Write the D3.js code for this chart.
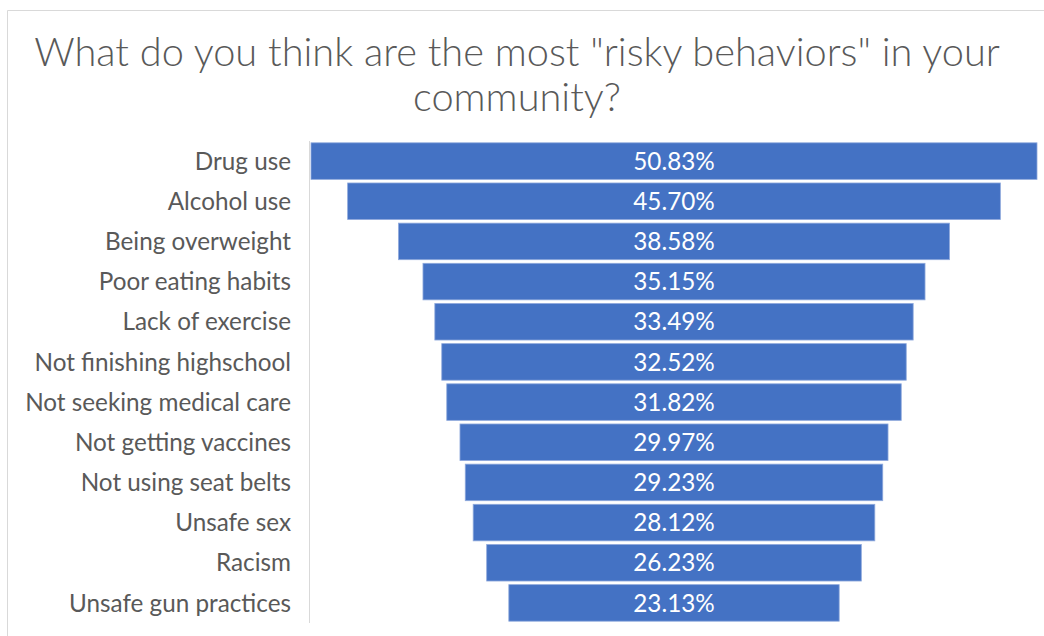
<!DOCTYPE html>
<html>
<head>
<meta charset="utf-8">
<script src="https://cdn.jsdelivr.net/npm/d3@7"></script>
<style>
  html, body { margin: 0; padding: 0; background: #ffffff; }
  svg { display: block; }
</style>
</head>
<body>
<svg id="chart" width="1044" height="636"></svg>
<script>
// Survey responses: share of respondents naming each behaviour
const categories = [
  "Drug use",
  "Alcohol use",
  "Being overweight",
  "Poor eating habits",
  "Lack of exercise",
  "Not finishing highschool",
  "Not seeking medical care",
  "Not getting vaccines",
  "Not using seat belts",
  "Unsafe sex",
  "Racism",
  "Unsafe gun practices"
];
const values = [50.83, 45.70, 38.58, 35.15, 33.49, 32.52, 31.82, 29.97, 29.23, 28.12, 26.23, 23.13];
const titleLines = ["What do you think are the most \"risky behaviors\" in your", "community?"];

const FONT = "Lato, 'Open Sans', 'Noto Sans', sans-serif";
const svg = d3.select("#chart");

// chart frame
svg.append("path")
  .attr("d", "M7.5,636 V10.5 H1044")
  .attr("fill", "none")
  .attr("stroke", "#d9d9d9")
  .attr("stroke-width", 1);

// helper: fit a text to a target width by adjusting its font size
function fitFont(sel, targetWidth, base) {
  const w = sel.node().getComputedTextLength();
  const fs = base * targetWidth / w;
  sel.attr("font-size", fs);
  return fs;
}

// title
const title = svg.append("text")
  .attr("text-anchor", "middle")
  .attr("font-family", FONT)
  .attr("font-weight", 300)
  .attr("fill", "#595959");
const t1 = title.append("tspan").attr("x", 517).attr("y", 66).text(titleLines[0]);
title.attr("font-size", 30);
const titleSize = fitFont(title.select("tspan"), 966, 30);
title.attr("font-size", titleSize);
t1.attr("font-size", null);
title.append("tspan").attr("x", 517).attr("y", 111).text(titleLines[1]);

// funnel layout
const plotLeft = 310, plotRight = 1037;
const y = d3.scaleBand()
  .domain(categories)
  .range([141, 623])
  .paddingInner(0.09)
  .paddingOuter(0.045);
const w = d3.scaleLinear()
  .domain([0, d3.max(values)])
  .range([0, plotRight - plotLeft - 1]);
const cx = (plotLeft + 1 + plotRight) / 2;

const data = categories.map((c, i) => ({ c, v: values[i] }));

// vertical category axis line
svg.append("line")
  .attr("x1", plotLeft - 0.5).attr("x2", plotLeft - 0.5)
  .attr("y1", 141).attr("y2", 623)
  .attr("stroke", "#d9d9d9").attr("stroke-width", 1);

// bars, centred on the funnel axis
svg.append("g").selectAll("rect")
  .data(data)
  .join("rect")
  .attr("x", d => cx - w(d.v) / 2)
  .attr("y", d => y(d.c))
  .attr("width", d => w(d.v))
  .attr("height", y.bandwidth())
  .attr("fill", "#4472c4")
  .attr("stroke", "#8fa9dc")
  .attr("stroke-width", 0.8);

// category labels
const labels = svg.append("g")
  .attr("font-family", FONT)
  .attr("fill", "#595959")
  .attr("text-anchor", "end");
const lab = labels.selectAll("text")
  .data(data)
  .join("text")
  .attr("x", 291)
  .attr("y", d => y(d.c) + y.bandwidth() / 2)
  .attr("dy", "0.36em")
  .attr("font-size", 20)
  .text(d => d.c);
const longest = lab.filter(d => d.c === "Not seeking medical care");
const labSize = fitFont(longest, 266, 20);
lab.attr("font-size", labSize);

// value labels inside bars
svg.append("g")
  .attr("font-family", FONT)
  .attr("fill", "#ffffff")
  .attr("text-anchor", "middle")
  .attr("font-size", labSize)
  .selectAll("text")
  .data(data)
  .join("text")
  .attr("x", cx)
  .attr("y", d => y(d.c) + y.bandwidth() / 2)
  .attr("dy", "0.36em")
  .text(d => d3.format(".2f")(d.v) + "%");
</script>
</body>
</html>
